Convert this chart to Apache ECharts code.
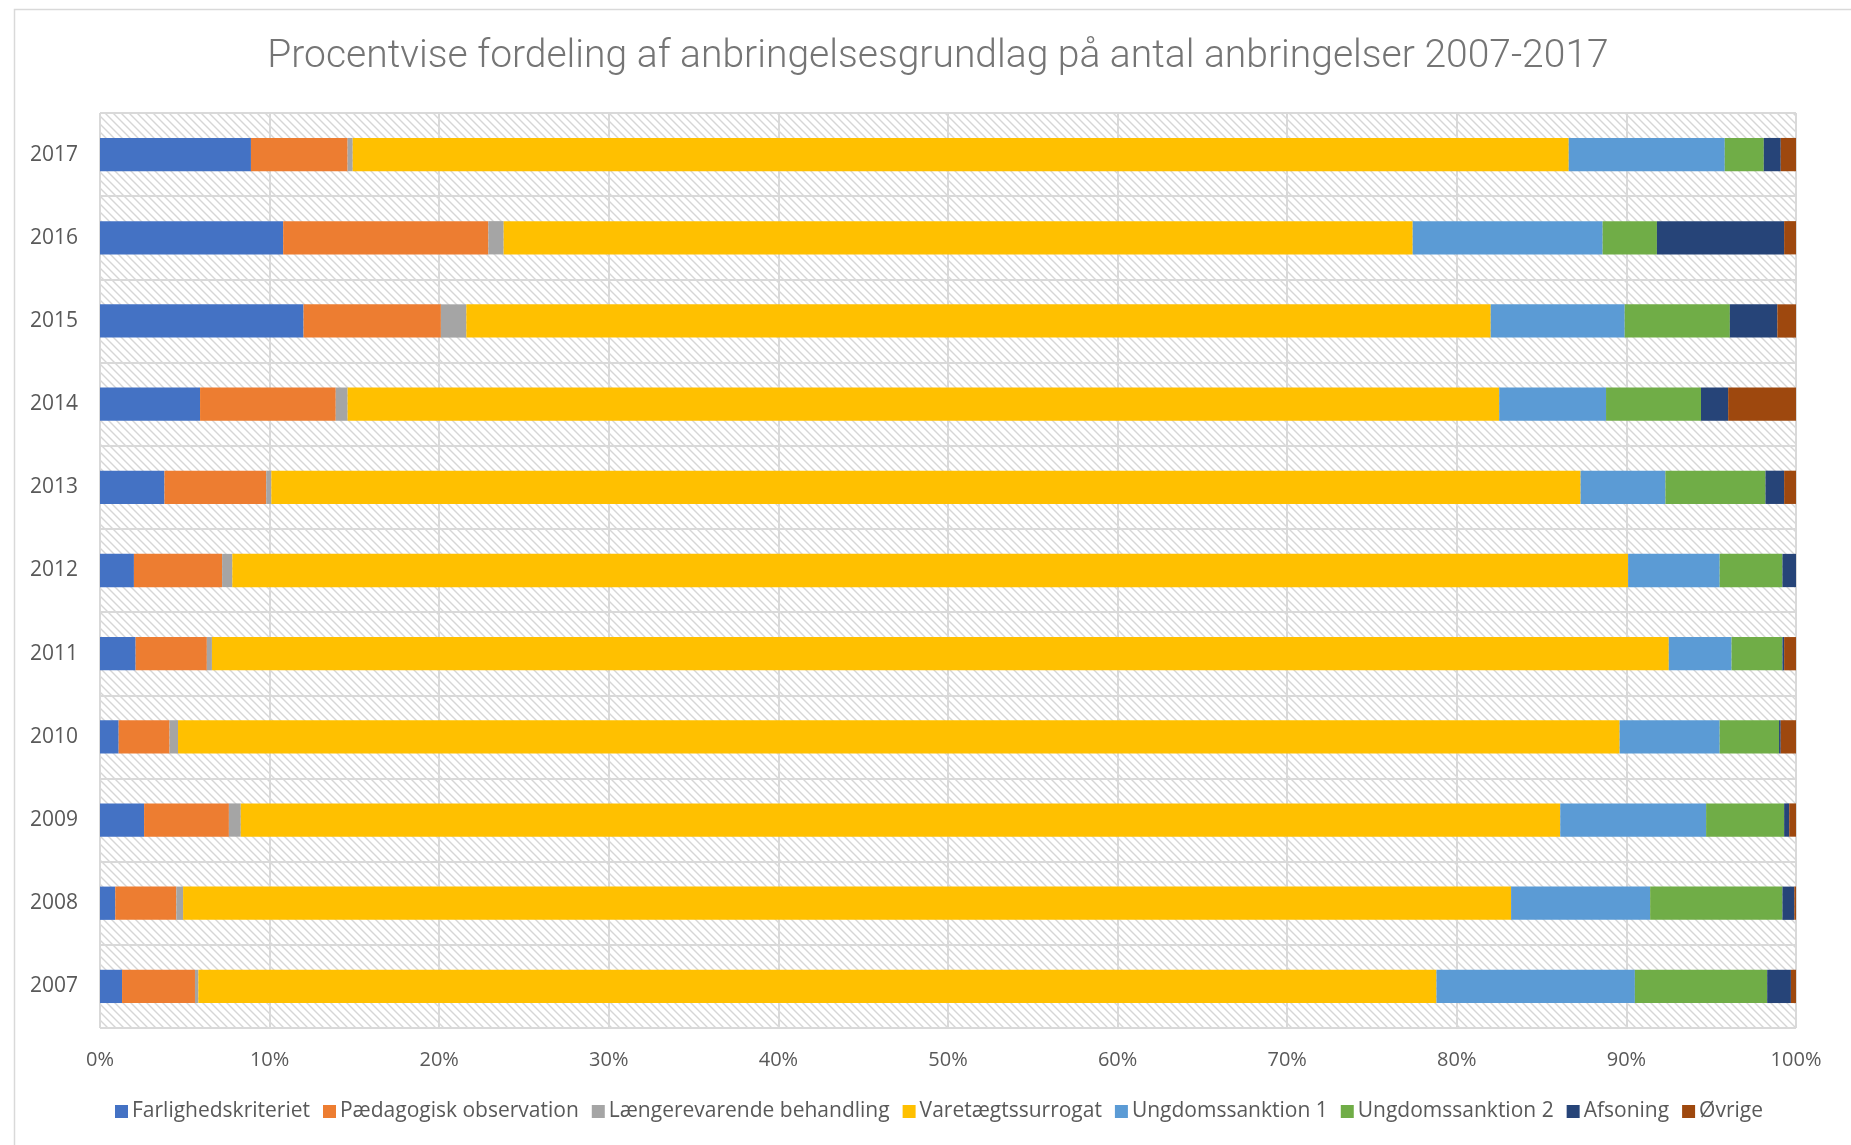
<!DOCTYPE html>
<html>
<head>
<meta charset="utf-8">
<script src="https://cdn.jsdelivr.net/npm/echarts@6/dist/echarts.min.js"></script>
<style>
html,body{margin:0;padding:0;background:#fff;}
#main{width:1851px;height:1145px;}
</style>
</head>
<body>
<div id="main"></div>
<script>
// Data (percent of placements per year)
const years = ['2007','2008','2009','2010','2011','2012','2013','2014','2015','2016','2017'];
const seriesNames = ['Farlighedskriteriet','Pædagogisk observation','Længerevarende behandling','Varetægtssurrogat','Ungdomssanktion 1','Ungdomssanktion 2','Afsoning','Øvrige'];
const farlighedskriteriet   = [1.3, 0.9, 2.6, 1.1, 2.1, 2.0, 3.8, 5.9, 12.0, 10.8, 8.9];
const paedagogiskObs        = [4.3, 3.6, 5.0, 3.0, 4.2, 5.2, 6.0, 8.0, 8.1, 12.1, 5.7];
const laengerevarende       = [0.2, 0.4, 0.7, 0.5, 0.3, 0.6, 0.3, 0.7, 1.5, 0.9, 0.3];
const varetaegtssurrogat    = [73.0, 78.3, 77.8, 85.0, 85.9, 82.3, 77.2, 67.9, 60.4, 53.6, 71.7];
const ungdomssanktion1      = [11.7, 8.2, 8.6, 5.9, 3.7, 5.4, 5.0, 6.3, 7.9, 11.2, 9.2];
const ungdomssanktion2      = [7.8, 7.8, 4.6, 3.5, 3.0, 3.7, 5.9, 5.6, 6.2, 3.2, 2.3];
const afsoning              = [1.4, 0.7, 0.3, 0.1, 0.1, 0.8, 1.1, 1.6, 2.8, 7.5, 1.0];
const oevrige               = [0.3, 0.1, 0.4, 0.9, 0.7, 0.0, 0.7, 4.0, 1.1, 0.7, 0.9];
const xTicks = [0,10,20,30,40,50,60,70,80,90,100];

const seriesData = [farlighedskriteriet, paedagogiskObs, laengerevarende, varetaegtssurrogat, ungdomssanktion1, ungdomssanktion2, afsoning, oevrige];
const colors = ['#4472C4','#ED7D31','#A5A5A5','#FFC000','#5B9BD5','#70AD47','#264478','#9E480E'];

// hatch pattern for plot area
const pc = document.createElement('canvas');
pc.width = 8; pc.height = 8;
const ctx = pc.getContext('2d');
ctx.fillStyle = '#ffffff';
ctx.fillRect(0,0,8,8);
ctx.strokeStyle = '#d6d6d6';
ctx.lineWidth = 1.4;
ctx.beginPath();
ctx.moveTo(-1,-1); ctx.lineTo(9,9);
ctx.moveTo(-1,7); ctx.lineTo(1,9);
ctx.moveTo(7,-1); ctx.lineTo(9,1);
ctx.stroke();

const chart = echarts.init(document.getElementById('main'));
const font = 'Open Sans, Liberation Sans, sans-serif';
chart.setOption({
  animation: false,
  backgroundColor: '#ffffff',
  title: {
    text: 'Procentvise fordeling af anbringelsesgrundlag på antal anbringelser 2007-2017',
    left: 933,
    textAlign: 'center',
    top: 33,
    textStyle: { fontFamily: 'Roboto, sans-serif', fontWeight: 300, fontSize: 39, color: '#757575' }
  },
  graphic: [{
    type: 'rect', left: 12, top: 7, shape: { width: 1900, height: 1200 },
    style: { fill: 'none', stroke: '#d9d9d9', lineWidth: 1.5 }, silent: true
  }],
  legend: {
    data: seriesNames,
    top: 1096,
    left: 110,
    itemWidth: 13, itemHeight: 13, itemGap: 13,
    icon: 'rect',
    textStyle: { fontFamily: font, fontSize: 21, color: '#595959', padding: [0,0,0,-1] }
  },
  grid: {
    left: 100, right: 55, top: 113, bottom: 117,
    show: true, borderWidth: 0,
    backgroundColor: { image: pc, repeat: 'repeat' }
  },
  xAxis: {
    type: 'value', min: 0, max: 100, interval: 10,
    axisLine: { show: false }, axisTick: { show: false },
    axisLabel: { formatter: v => v + '%', fontFamily: font, fontSize: 20, color: '#595959', margin: 22 },
    splitLine: { show: true, lineStyle: { color: '#d9d9d9', width: 2 } }
  },
  yAxis: {
    type: 'category', data: years,
    axisLine: { show: false }, axisTick: { show: false },
    axisLabel: { fontFamily: font, fontSize: 21, color: '#595959', margin: 22 },
    splitLine: { show: true, lineStyle: { color: '#d9d9d9', width: 2 } }
  },
  series: seriesNames.map((n, i) => ({
    name: n, type: 'bar', stack: 'total', barWidth: '40%',
    itemStyle: { color: colors[i] },
    data: seriesData[i]
  }))
});
</script>
</body>
</html>
